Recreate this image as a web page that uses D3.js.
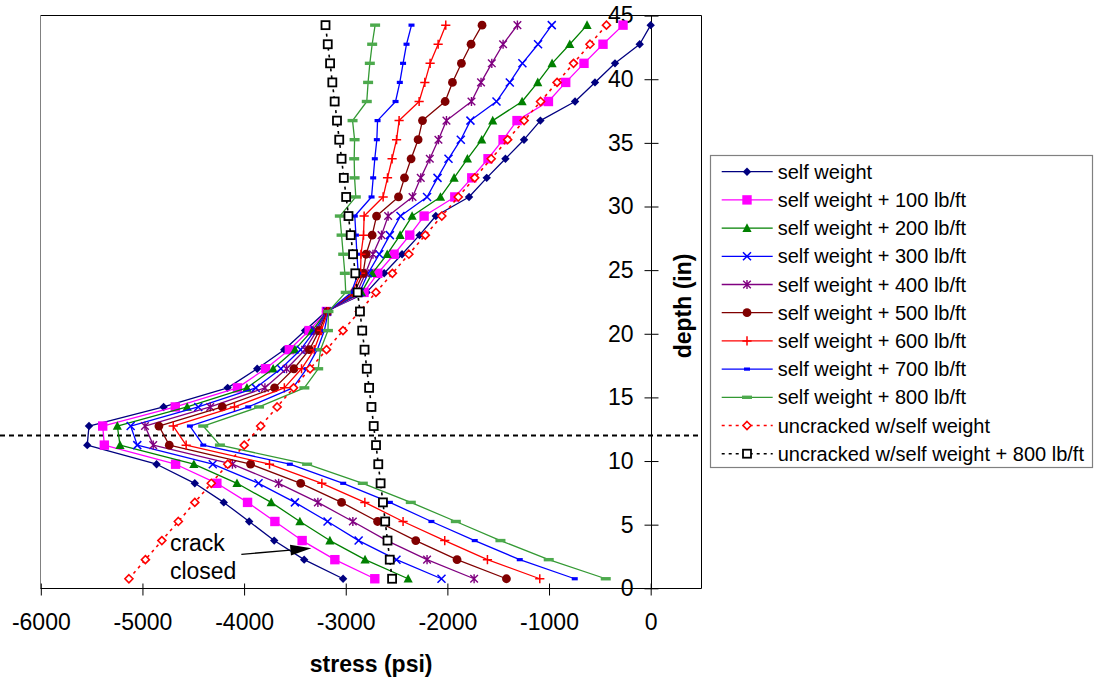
<!DOCTYPE html>
<html>
<head>
<meta charset="utf-8">
<script src="https://cdn.jsdelivr.net/npm/d3@7"></script>
<style>
  html, body { margin: 0; padding: 0; background: #fff; }
  svg { display: block; font-family: "Liberation Sans", Arial, sans-serif; }
</style>
</head>
<body>
<svg id="chart" width="1094" height="681"></svg>
<script>
// Depth of each computed layer (in), measured from the bottom of the section
const depth = [0.75, 2.25, 3.75, 5.25, 6.75, 8.25, 9.75, 11.25, 12.75, 14.25,
  15.75, 17.25, 18.75, 20.25, 21.75, 23.25, 24.75, 26.25, 27.75, 29.25,
  30.75, 32.25, 33.75, 35.25, 36.75, 38.25, 39.75, 41.25, 42.75, 44.25];

// Stress (psi) at each depth, cracked section
const selfWeight = [-3026, -3409, -3704, -3950, -4200, -4485, -4861, -5543, -5526, -4792,
  -4162, -3871, -3605, -3400, -3195, -2795, -2622, -2446, -2274, -2114,
  -1787, -1613, -1429, -1246, -1085, -744, -548, -351, -108, 0];
const plus100 = [-2714, -3107, -3429, -3697, -3966, -4268, -4674, -5375, -5391, -4677,
  -4066, -3789, -3555, -3360, -3190, -2820, -2685, -2524, -2370, -2229,
  -1927, -1760, -1600, -1452, -1315, -1006, -836, -656, -469, -272];
const plus200 = [-2386, -2810, -3156, -3451, -3733, -4070, -4494, -5221, -5247, -4560,
  -3972, -3714, -3500, -3330, -3186, -2845, -2740, -2592, -2465, -2347,
  -2068, -1934, -1803, -1662, -1554, -1265, -1111, -970, -796, -626];
const plus300 = [-2058, -2501, -2873, -3179, -3500, -3858, -4308, -5051, -5116, -4451,
  -3885, -3638, -3444, -3305, -3183, -2865, -2780, -2670, -2566, -2461,
  -2200, -2097, -1989, -1868, -1773, -1517, -1386, -1262, -1108, -973];
const plus400 = [-1737, -2200, -2595, -2930, -3274, -3660, -4115, -4894, -4975, -4333,
  -3795, -3582, -3400, -3285, -3180, -2890, -2805, -2732, -2648, -2583,
  -2343, -2262, -2173, -2088, -2009, -1763, -1669, -1563, -1452, -1311];
const plus500 = [-1419, -1905, -2311, -2687, -3041, -3443, -3936, -4736, -4838, -4215,
  -3700, -3510, -3357, -3262, -3178, -2915, -2829, -2800, -2740, -2697,
  -2481, -2422, -2357, -2288, -2245, -2022, -1950, -1862, -1767, -1659];
const plus600 = [-1091, -1606, -2026, -2436, -2812, -3235, -3750, -4570, -4697, -4095,
  -3604, -3435, -3310, -3240, -3175, -2935, -2854, -2850, -2825, -2819,
  -2632, -2589, -2544, -2500, -2475, -2278, -2222, -2170, -2091, -2016];
const plus700 = [-747, -1288, -1731, -2157, -2566, -3025, -3550, -4402, -4533, -3959,
  -3520, -3385, -3280, -3210, -3172, -2945, -2877, -2890, -2900, -2911,
  -2746, -2730, -2714, -2694, -2687, -2510, -2468, -2436, -2402, -2353];
const plus800 = [-442, -1003, -1478, -1917, -2360, -2832, -3380, -4238, -4402, -3853,
  -3407, -3271, -3248, -3175, -3170, -3000, -3009, -3025, -3041, -3058,
  -2901, -2913, -2917, -2913, -2933, -2793, -2780, -2763, -2740, -2711];
// Uncracked section
const uncracked = [-5133, -4971, -4809, -4647, -4485, -4323, -4161, -3999, -3837, -3675,
  -3513, -3351, -3189, -3027, -2865, -2703, -2541, -2379, -2217, -2055,
  -1893, -1731, -1569, -1407, -1245, -1083, -921, -759, -597, -435];
const uncracked800 = [-2544, -2567, -2589, -2612, -2634, -2657, -2680, -2702, -2725, -2747,
  -2770, -2793, -2815, -2838, -2860, -2883, -2906, -2928, -2951, -2973,
  -2996, -3019, -3041, -3064, -3086, -3109, -3132, -3154, -3177, -3199];

const seriesNames = ["self weight", "self weight + 100 lb/ft", "self weight + 200 lb/ft",
  "self weight + 300 lb/ft", "self weight + 400 lb/ft", "self weight + 500 lb/ft",
  "self weight + 600 lb/ft", "self weight + 700 lb/ft", "self weight + 800 lb/ft",
  "uncracked w/self weight", "uncracked w/self weight + 800 lb/ft"];
const seriesValues = [selfWeight, plus100, plus200, plus300, plus400, plus500,
  plus600, plus700, plus800, uncracked, uncracked800];

const xTicks = [-6000, -5000, -4000, -3000, -2000, -1000, 0];
const yTicks = [0, 5, 10, 15, 20, 25, 30, 35, 40, 45];
const crackDepth = 12;   // depth of the crack tip line (in)

// Style of each series: line colour, marker shape, marker colour, dash pattern
const styles = [
  { color: "#000080", marker: "diamond" },
  { color: "#FF00FF", marker: "square" },
  { color: "#008000", marker: "triangle" },
  { color: "#0000FF", marker: "x" },
  { color: "#800080", marker: "star" },
  { color: "#800000", marker: "circle" },
  { color: "#FF0000", marker: "plus" },
  { color: "#0000FF", marker: "shortbar" },
  { color: "#339933", marker: "longbar", mcolor: "#4DAA4D" },
  { color: "#FF0000", marker: "opendiamond", dash: "3,4" },
  { color: "#000000", marker: "opensquare", dash: "3,4" }
];

const svg = d3.select("#chart");
const W = 1094, H = 681;
svg.append("rect").attr("width", W).attr("height", H).attr("fill", "#fff");

const x = d3.scaleLinear().domain([-6000, 500]).range([40.8, 701.5]);
const y = d3.scaleLinear().domain([0, 45]).range([588.3, 15.6]);

const plotL = 40.5, plotR = 701.5, plotT = 15.5, plotB = 588.5;

// Plot frame
svg.append("line").attr("x1", plotL).attr("x2", plotR).attr("y1", plotT).attr("y2", plotT)
  .attr("stroke", "#000").attr("stroke-width", 1);
svg.append("line").attr("x1", plotR).attr("x2", plotR).attr("y1", plotT).attr("y2", plotB)
  .attr("stroke", "#000").attr("stroke-width", 1);
svg.append("line").attr("x1", plotL).attr("x2", plotL).attr("y1", plotT).attr("y2", plotB)
  .attr("stroke", "#808080").attr("stroke-width", 1);

// X axis along depth 0
const xAxis = svg.append("g").attr("transform", `translate(0,${Math.round(y(0)) + 0.5})`)
  .call(d3.axisBottom(x).tickValues(xTicks).tickSizeInner(7).tickSizeOuter(0).tickPadding(18)
    .tickFormat(d3.format("d")));
xAxis.select(".domain").attr("d", `M${plotL},0H${plotR}`).attr("stroke", "#000");
xAxis.selectAll(".tick line").attr("y1", -5).attr("y2", 7).attr("stroke", "#000");
xAxis.selectAll(".tick text").attr("font-size", 23).attr("fill", "#000")
  .attr("font-family", "Liberation Sans, Arial, sans-serif")
  .text(d => d < 0 ? "-" + Math.abs(d) : d);

// Y axis along stress 0
const yAxis = svg.append("g").attr("transform", `translate(${Math.round(x(0)) + 0.5},0)`)
  .call(d3.axisLeft(y).tickValues(yTicks).tickSizeInner(7).tickSizeOuter(0).tickPadding(11));
yAxis.select(".domain").attr("d", `M0,${plotT}V${plotB}`).attr("stroke", "#000");
yAxis.selectAll(".tick line").attr("x1", -7).attr("x2", 7).attr("stroke", "#000");
yAxis.selectAll(".tick text").attr("font-size", 23).attr("fill", "#000")
  .attr("font-family", "Liberation Sans, Arial, sans-serif");

// Axis titles
svg.append("text").attr("x", (x(-6000) + x(500)) / 2).attr("y", 672)
  .attr("text-anchor", "middle").attr("font-size", 23).attr("font-weight", "bold")
  .text("stress (psi)");
svg.append("text").attr("transform", `translate(691,${(y(0) + y(45)) / 2 + 4}) rotate(-90)`)
  .attr("text-anchor", "middle").attr("font-size", 23).attr("font-weight", "bold")
  .text("depth (in)");

// Crack tip line
svg.append("line").attr("x1", 0).attr("x2", x(500))
  .attr("y1", y(crackDepth)).attr("y2", y(crackDepth))
  .attr("stroke", "#000").attr("stroke-width", 2).attr("stroke-dasharray", "5,4");

// Marker drawing
function drawMarker(g, type, color, mcolor) {
  const c = mcolor || color;
  switch (type) {
    case "diamond":
      g.append("path").attr("d", "M0,-4.2L4.2,0L0,4.2L-4.2,0Z").attr("fill", c); break;
    case "square":
      g.append("rect").attr("x", -4.7).attr("y", -4.7).attr("width", 9.4).attr("height", 9.4).attr("fill", c); break;
    case "triangle":
      g.append("path").attr("d", "M0,-4.8L4.6,3.8L-4.6,3.8Z").attr("fill", c); break;
    case "x":
      g.append("path").attr("d", "M-4,-4L4,4M4,-4L-4,4").attr("stroke", c).attr("stroke-width", 1.5).attr("fill", "none"); break;
    case "star":
      g.append("path").attr("d", "M-3.8,-3.8L3.8,3.8M3.8,-3.8L-3.8,3.8M0,-4.6V4.6")
        .attr("stroke", c).attr("stroke-width", 1.4).attr("fill", "none"); break;
    case "circle":
      g.append("circle").attr("r", 4.4).attr("fill", c); break;
    case "plus":
      g.append("path").attr("d", "M-4.6,0H4.6M0,-4.6V4.6").attr("stroke", c).attr("stroke-width", 1.5).attr("fill", "none"); break;
    case "shortbar":
      g.append("rect").attr("x", -3).attr("y", -1.6).attr("width", 6).attr("height", 3.2).attr("fill", c); break;
    case "longbar":
      g.append("rect").attr("x", -5).attr("y", -1.7).attr("width", 10).attr("height", 3.4).attr("fill", c); break;
    case "opendiamond":
      g.append("path").attr("d", "M0,-4L4,0L0,4L-4,0Z").attr("fill", "#fff").attr("stroke", c).attr("stroke-width", 1.6); break;
    case "opensquare":
      g.append("rect").attr("x", -4).attr("y", -4).attr("width", 8).attr("height", 8)
        .attr("fill", "#fff").attr("stroke", c).attr("stroke-width", 1.8); break;
  }
}

const line = d3.line().x(d => x(d.s)).y(d => y(d.z));

seriesValues.forEach((vals, i) => {
  const st = styles[i];
  const pts = vals.map((s, k) => ({ s, z: depth[k] }));
  const g = svg.append("g").attr("class", "series");
  g.append("path").datum(pts).attr("d", line).attr("fill", "none")
    .attr("stroke", st.color).attr("stroke-width", st.dash ? 1.6 : 1.3)
    .attr("stroke-dasharray", st.dash || null).attr("stroke-linejoin", "round");
  pts.forEach(p => {
    const m = g.append("g").attr("transform", `translate(${x(p.s)},${y(p.z)})`);
    drawMarker(m, st.marker, st.color, st.mcolor);
  });
});

// Annotation
svg.append("text").attr("x", x(-4730)).attr("y", y(2.95)).attr("font-size", 23).text("crack");
svg.append("text").attr("x", x(-4730)).attr("y", y(0.73)).attr("font-size", 23).text("closed");
const ax0 = x(-4027), ay0 = y(2.67), ax1 = x(-3338), ay1 = y(3.14);
const ang = Math.atan2(ay1 - ay0, ax1 - ax0);
const headLen = 21, headW = 5.5;
const bx = ax1 - headLen * Math.cos(ang), by = ay1 - headLen * Math.sin(ang);
svg.append("line").attr("x1", ax0).attr("y1", ay0).attr("x2", bx).attr("y2", by)
  .attr("stroke", "#000").attr("stroke-width", 1.3);
svg.append("path")
  .attr("d", `M${ax1},${ay1}L${bx - headW * Math.sin(ang)},${by + headW * Math.cos(ang)}L${bx + headW * Math.sin(ang)},${by - headW * Math.cos(ang)}Z`)
  .attr("fill", "#000");

// Legend
const legend = svg.append("g");
legend.append("rect").attr("x", 710.5).attr("y", 155.5).attr("width", 382).attr("height", 312)
  .attr("fill", "#fff").attr("stroke", "#808080").attr("stroke-width", 1.2);
seriesNames.forEach((name, i) => {
  const st = styles[i];
  const ly = 171.7 + i * 28.2;
  legend.append("line").attr("x1", 721.7).attr("x2", 772.7).attr("y1", ly).attr("y2", ly)
    .attr("stroke", st.color).attr("stroke-width", st.dash ? 1.6 : 1.3)
    .attr("stroke-dasharray", st.dash || null);
  const m = legend.append("g").attr("transform", `translate(747,${ly})`);
  drawMarker(m, st.marker, st.color, st.mcolor);
  legend.append("text").attr("x", 777.7).attr("y", ly).attr("dy", "0.35em")
    .attr("font-size", 20).attr("fill", "#000").text(name);
});
</script>
</body>
</html>
